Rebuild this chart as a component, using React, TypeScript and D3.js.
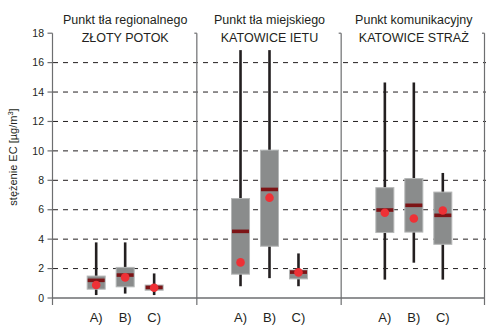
import React from "react";
import * as d3 from "d3";

const panels = ["P1", "P2", "P3"];
const titleLine1 = ["Punkt tła regionalnego", "Punkt tła miejskiego", "Punkt komunikacyjny"];
const titleLine2 = ["ZŁOTY POTOK", "KATOWICE IETU", "KATOWICE STRAŻ"];
const categories = ["A)", "B)", "C)"];
const yTicks = [0, 2, 4, 6, 8, 10, 12, 14, 16, 18];
const gridTicks = [2, 4, 6, 8, 10, 12, 14, 16];

// per panel, per category
const whiskerLow = [[0.2, 0.3, 0.2], [0.8, 1.35, 0.8], [1.25, 2.4, 1.25]];
const q1 = [[0.6, 0.76, 0.53], [1.62, 3.52, 1.3], [4.45, 4.48, 3.65]];
const median = [[1.2, 1.56, 0.72], [4.53, 7.38, 1.76], [5.98, 6.3, 5.62]];
const q3 = [[1.49, 2.08, 0.88], [6.76, 10.05, 1.9], [7.5, 8.12, 7.2]];
const whiskerHigh = [[3.78, 3.78, 1.67], [16.85, 16.85, 3.03], [14.65, 14.65, 8.5]];
const mean = [[0.88, 1.4, 0.7], [2.42, 6.82, 1.74], [5.8, 5.4, 5.95]];

const W = 486;
const H = 327;

export default function App() {
  const y = d3.scaleLinear().domain([0, 18]).range([298, 33.2]);
  const gx = d3.scaleBand().domain(panels).range([53, 486]);
  const ix = d3.scalePoint().domain(categories).range([0, gx.bandwidth()]).padding(1.49);
  const boxW = 18;
  const axisColor = "#6d6e70";
  const font = "Liberation Sans, Arial, sans-serif";
  const yBottom = 305;

  return (
    <svg width={W} height={H} style={{ position: "absolute", left: 0, top: 0 }} fontFamily={font}>
      <rect width={W} height={H} fill="#fff" />
      {/* grid */}
      {gridTicks.map((t) => (
        <line key={"g" + t} x1={gx.range()[0]} x2={W} y1={y(t)} y2={y(t)} stroke="#231f20" strokeWidth={1} strokeDasharray="5,5" />
      ))}
      {/* left axis */}
      <line x1={52.5} x2={52.5} y1={y(18)} y2={yBottom} stroke={axisColor} strokeWidth={1.2} />
      {yTicks.map((t) => (
        <g key={"t" + t}>
          <line x1={47.5} x2={52.5} y1={y(t)} y2={y(t)} stroke={axisColor} strokeWidth={1.2} />
          <text x={44} y={y(t)} dy="0.35em" textAnchor="end" fontSize={10.5} fill="#231f20">{t}</text>
        </g>
      ))}
      {/* dividers */}
      {panels.slice(1).map((p) => (
        <g key={"d" + p}>
          <line x1={(gx(p) as number) - 0.5} x2={(gx(p) as number) - 0.5} y1={y(18)} y2={yBottom} stroke={axisColor} strokeWidth={1.2} />
          <line x1={(gx(p) as number) - 3} x2={(gx(p) as number) - 0.5} y1={y(18)} y2={y(18)} stroke={axisColor} strokeWidth={1.2} />
        </g>
      ))}
      <line x1={W - 1.5} x2={W - 1.5} y1={y(18)} y2={yBottom} stroke={axisColor} strokeWidth={1.2} />
      <line x1={W - 4} x2={W - 1.5} y1={y(18)} y2={y(18)} stroke={axisColor} strokeWidth={1.2} />
      {/* bottom axis */}
      <line x1={52.5} x2={W - 1.5} y1={y(0)} y2={y(0)} stroke={axisColor} strokeWidth={1.5} />
      {/* titles */}
      {panels.map((p, i) => {
        const cx = (gx(p) as number) + gx.bandwidth() / 2;
        return (
          <g key={"ti" + p}>
            <text x={cx} y={24} textAnchor="middle" fontSize={12.5} fill="#231f20">{titleLine1[i]}</text>
            <text x={cx} y={42} textAnchor="middle" fontSize={12.5} fill="#231f20">{titleLine2[i]}</text>
          </g>
        );
      })}
      {/* boxes */}
      {panels.map((p, i) =>
        categories.map((c, j) => {
          const cx = (gx(p) as number) + (ix(c) as number);
          return (
            <g key={p + c}>
              <line x1={cx} x2={cx} y1={y(whiskerLow[i][j])} y2={y(whiskerHigh[i][j])} stroke="#231f20" strokeWidth={2.6} />
              <rect x={cx - boxW / 2} y={y(q3[i][j])} width={boxW} height={y(q1[i][j]) - y(q3[i][j])} fill="#8a8c8c" stroke="#b5b7b7" strokeWidth={1} />
              <rect x={cx - boxW / 2 + 0.5} y={y(median[i][j]) - 1.8} width={boxW - 1} height={3.6} fill="#7d1416" />
              <circle cx={cx} cy={y(mean[i][j])} r={4.3} fill="#ee3136" />
              <text x={cx} y={322} textAnchor="middle" fontSize={13} fill="#231f20">{c}</text>
            </g>
          );
        })
      )}
      {/* y label */}
      <text transform={`translate(17,${157}) rotate(-90)`} textAnchor="middle" fontSize={11} fill="#231f20">
        stężenie EC [µg/m<tspan dy={-4.5} fontSize={7.5}>3</tspan><tspan dy={4.5}>]</tspan>
      </text>
    </svg>
  );
}
